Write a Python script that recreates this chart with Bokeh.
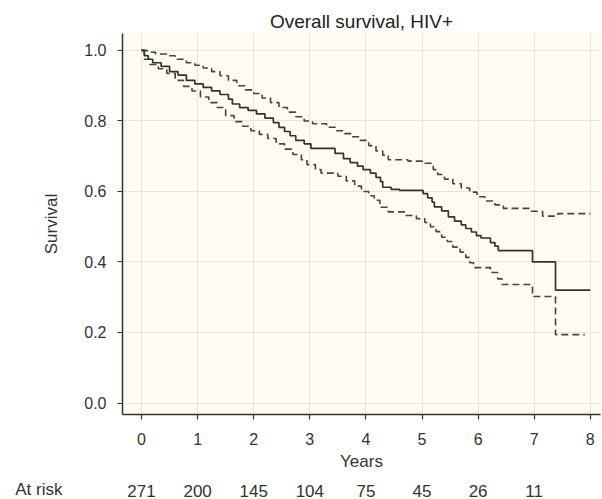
from bokeh.plotting import figure
from bokeh.models import Range1d, FixedTicker
from bokeh.layouts import column
from bokeh.core.properties import value
from bokeh.embed import file_html
from bokeh.resources import INLINE

# Kaplan-Meier estimate (step "after"), last point = end of follow-up
km_t = [0, 0.05, 0.12, 0.20, 0.35, 0.50, 0.65, 0.80, 0.95, 1.10, 1.25, 1.40, 1.55, 1.62,
        1.75, 1.90, 2.05, 2.20, 2.35, 2.45, 2.55, 2.65, 2.75, 2.90, 3.02, 3.45, 3.60, 3.72,
        3.85, 3.95, 4.08, 4.18, 4.26, 4.30, 4.45, 4.60, 5.02, 5.10, 5.18, 5.22, 5.35, 5.47,
        5.58, 5.70, 5.78, 5.88, 5.97, 6.05, 6.22, 6.30, 6.36, 6.97, 7.38, 8.0]
km_s = [1.0, 0.985, 0.975, 0.965, 0.955, 0.94, 0.93, 0.915, 0.905, 0.895, 0.885, 0.875, 0.862, 0.848,
        0.838, 0.83, 0.82, 0.808, 0.795, 0.782, 0.77, 0.758, 0.745, 0.735, 0.722, 0.708, 0.693, 0.682,
        0.672, 0.662, 0.652, 0.64, 0.628, 0.612, 0.606, 0.603, 0.594, 0.582, 0.57, 0.556, 0.545, 0.528,
        0.516, 0.505, 0.495, 0.485, 0.475, 0.468, 0.455, 0.445, 0.432, 0.40, 0.32, 0.32]

upper_t = [0, 0.10, 0.25, 0.45, 0.60, 0.80, 0.95, 1.10, 1.25, 1.40, 1.55, 1.70, 1.85, 2.00,
           2.15, 2.30, 2.45, 2.60, 2.75, 2.90, 3.05, 3.30, 3.45, 3.60, 3.75, 3.90, 4.05, 4.18,
           4.30, 4.40, 4.75, 5.05, 5.20, 5.28, 5.40, 5.55, 5.70, 5.85, 5.98, 6.12, 6.30, 6.45,
           6.95, 7.15, 7.42, 8.0]
upper_s = [1.0, 0.995, 0.99, 0.985, 0.975, 0.965, 0.958, 0.95, 0.94, 0.928, 0.915, 0.90, 0.888, 0.878,
           0.865, 0.852, 0.838, 0.825, 0.812, 0.80, 0.792, 0.782, 0.772, 0.764, 0.755, 0.745, 0.73, 0.715,
           0.703, 0.69, 0.686, 0.68, 0.662, 0.648, 0.635, 0.622, 0.61, 0.598, 0.585, 0.573, 0.562, 0.552,
           0.544, 0.53, 0.537, 0.537]

lower_t = [0, 0.05, 0.15, 0.30, 0.45, 0.60, 0.75, 0.90, 1.05, 1.20, 1.35, 1.50, 1.65, 1.80,
           1.95, 2.10, 2.25, 2.40, 2.55, 2.70, 2.85, 2.95, 3.10, 3.20, 3.50, 3.65, 3.80, 3.92,
           4.05, 4.15, 4.25, 4.40, 4.70, 4.90, 5.05, 5.15, 5.25, 5.35, 5.45, 5.55, 5.68, 5.78,
           5.85, 5.92, 6.22, 6.35, 6.43, 6.97, 7.38, 7.90]
lower_s = [1.0, 0.975, 0.96, 0.948, 0.935, 0.915, 0.898, 0.885, 0.868, 0.852, 0.838, 0.815, 0.798, 0.785,
           0.772, 0.762, 0.75, 0.735, 0.72, 0.705, 0.69, 0.676, 0.662, 0.652, 0.643, 0.63, 0.615, 0.60,
           0.588, 0.575, 0.555, 0.542, 0.532, 0.523, 0.512, 0.50, 0.486, 0.47, 0.458, 0.442, 0.428, 0.413,
           0.398, 0.384, 0.37, 0.352, 0.336, 0.302, 0.194, 0.194]

x_ticks = [0, 1, 2, 3, 4, 5, 6, 7, 8]
y_ticks = [0.0, 0.2, 0.4, 0.6, 0.8, 1.0]
risk_years = [0, 1, 2, 3, 4, 5, 6, 7]
at_risk = [271, 200, 145, 104, 75, 45, 26, 11]
risk_title = "At risk"

FONT = "Liberation Sans"
TXT = "#333333"

X0, X1 = -0.339, 8.182

p = figure(width=602, height=474, output_backend="svg", toolbar_location=None,
           x_range=Range1d(X0, X1), y_range=Range1d(-0.0326, 1.048),
           min_border_left=122, min_border_right=2, min_border_top=33, min_border_bottom=60,
           title="Overall survival, HIV+")
p.title.align = "center"
p.title.text_font = FONT
p.title.text_font_size = "19px"
p.title.text_font_style = "normal"
p.title.text_color = "#222222"
p.title.offset = 7
p.title.standoff = 4

p.background_fill_color = "#fefcf0"
p.border_fill_color = "white"
p.outline_line_color = None

p.xaxis.ticker = FixedTicker(ticks=x_ticks)
p.yaxis.ticker = FixedTicker(ticks=y_ticks)
p.yaxis.major_label_overrides = {v: f"{v:.1f}" for v in y_ticks}
for ax in (p.xaxis, p.yaxis):
    ax.axis_line_color = "#333333"
    ax.axis_line_width = 1.5
    ax.major_tick_line_color = "#333333"
    ax.major_tick_line_width = 1.2
    ax.major_tick_in = 0
    ax.major_tick_out = 5
    ax.minor_tick_line_color = None
    ax.major_label_text_font = FONT
    ax.major_label_text_font_size = "16px"
    ax.major_label_text_color = TXT
    ax.axis_label_text_font = FONT
    ax.axis_label_text_font_size = "17px"
    ax.axis_label_text_font_style = "normal"
    ax.axis_label_text_color = TXT
p.xaxis.axis_label = "Years"
p.yaxis.axis_label = "Survival"
p.xaxis.major_label_standoff = 13
p.xaxis.axis_label_standoff = 4
p.yaxis.major_label_standoff = 11
p.yaxis.axis_label_standoff = 20

p.xgrid.grid_line_color = "#e8e6da"
p.ygrid.grid_line_color = "#e8e6da"
p.xgrid.grid_line_width = 1
p.ygrid.grid_line_width = 1

p.step(upper_t, upper_s, mode="after", line_color="#444444", line_width=1.6, line_dash="7 4")
p.step(lower_t, lower_s, mode="after", line_color="#444444", line_width=1.6, line_dash="7 4")
p.step(km_t, km_s, mode="after", line_color="#333333", line_width=1.7)

# At-risk row: a strip sharing the main plot's x scale; "At risk" is its left-axis label
r = figure(width=602, height=25, output_backend="svg", toolbar_location=None,
           x_range=p.x_range, y_range=Range1d(0, 25),
           min_border_left=122, min_border_right=2, min_border_top=0, min_border_bottom=0)
r.xaxis.visible = False
r.grid.visible = False
r.outline_line_color = None
r.background_fill_color = "white"
r.border_fill_color = "white"
ROW_Y = 9
r.yaxis.ticker = FixedTicker(ticks=[ROW_Y])
r.yaxis.major_label_overrides = {ROW_Y: risk_title}
r.yaxis.axis_line_color = None
r.yaxis.major_tick_line_color = None
r.yaxis.minor_tick_line_color = None
r.yaxis.major_label_standoff = 54
r.yaxis.major_label_text_font = FONT
r.yaxis.major_label_text_font_size = "17px"
r.yaxis.major_label_text_color = TXT
r.text(x=risk_years, y=[ROW_Y] * len(risk_years), text=[str(n) for n in at_risk],
       text_font=value(FONT), text_font_size="17px", text_color=TXT,
       text_align="center", text_baseline="middle")

layout = column(p, r, spacing=0)
open("out.html", "w").write(file_html(layout, INLINE))
